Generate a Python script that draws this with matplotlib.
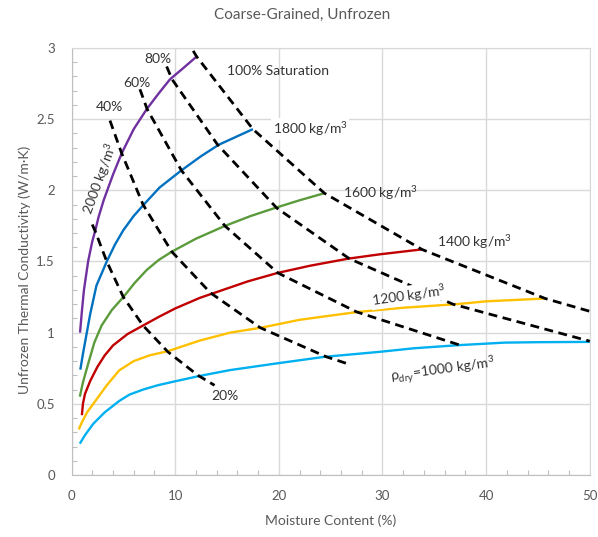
import matplotlib.pyplot as plt
from matplotlib.ticker import MultipleLocator

plt.rcParams['font.family'] = ['Lato', 'DejaVu Sans']
plt.rcParams['mathtext.fontset'] = 'custom'
plt.rcParams['mathtext.rm'] = 'Lato'

# thermal conductivity curves, one per dry density (moisture %, W/m·K)
w_2000 = [0.82, 1.0, 1.2, 1.6, 2.0, 2.3, 2.6, 3.1, 4.0, 4.84, 6.0, 7.25, 8.4, 9.5, 10.8, 12.07]
k_2000 = [1.0, 1.15, 1.3, 1.5, 1.64, 1.72, 1.81, 1.93, 2.11, 2.26, 2.43, 2.57, 2.68, 2.78, 2.86, 2.94]

w_1800 = [0.85, 1.1, 1.3, 1.8, 2.4, 3.4, 4.2, 5.0, 6.0, 7.1, 8.5, 10.6, 12.5, 14.2, 16.0, 17.5]
k_1800 = [0.74, 0.85, 0.93, 1.13, 1.33, 1.5, 1.62, 1.72, 1.82, 1.91, 2.02, 2.14, 2.24, 2.32, 2.38, 2.43]

w_1600 = [0.8, 1.1, 1.6, 2.2, 2.9, 3.9, 5.0, 6.1, 7.25, 8.4, 9.7, 12.0, 14.8, 17.3, 19.8, 22.0, 24.4]
k_1600 = [0.55, 0.65, 0.78, 0.93, 1.05, 1.16, 1.25, 1.35, 1.44, 1.51, 1.57, 1.66, 1.75, 1.82, 1.88, 1.93, 1.98]

w_1400 = [1.0, 1.1, 1.3, 1.8, 2.5, 3.2, 4.0, 5.4, 6.9, 8.4, 10.0, 12.4, 14.2, 17.0, 19.9, 23.0, 26.7, 29.7, 33.8]
k_1400 = [0.42, 0.5, 0.57, 0.66, 0.76, 0.84, 0.91, 0.99, 1.05, 1.11, 1.17, 1.245, 1.29, 1.36, 1.42, 1.47, 1.52, 1.55, 1.585]

w_1200 = [0.7, 1.0, 1.5, 2.4, 3.4, 4.6, 6.0, 7.5, 9.3, 12.4, 15.3, 18.3, 22.0, 25.0, 27.7, 32.0, 37.1, 40.0, 45.7]
k_1200 = [0.32, 0.37, 0.44, 0.53, 0.63, 0.735, 0.8, 0.84, 0.87, 0.945, 1.0, 1.035, 1.09, 1.12, 1.146, 1.175, 1.2, 1.22, 1.24]

w_1000 = [0.8, 1.3, 2.1, 3.2, 4.6, 5.6, 6.9, 8.3, 9.8, 12.3, 15.3, 19.8, 24.4, 29.7, 33.0, 37.3, 41.8, 45.0, 50.0]
k_1000 = [0.22, 0.28, 0.36, 0.44, 0.52, 0.565, 0.6, 0.63, 0.655, 0.695, 0.737, 0.784, 0.83, 0.865, 0.89, 0.912, 0.93, 0.933, 0.935]

# constant saturation lines through the density curves
w_s20 = [2.0, 2.3, 3.4, 5.0, 6.9, 9.3, 12.2, 13.8]
k_s20 = [1.76, 1.71, 1.5, 1.25, 1.05, 0.865, 0.7, 0.63]

w_s40 = [3.71, 4.84, 6.9, 9.66, 13.4, 18.2, 24.6, 26.7]
k_s40 = [2.49, 2.26, 1.9, 1.57, 1.28, 1.035, 0.83, 0.78]

w_s60 = [6.6, 7.3, 10.6, 14.8, 19.9, 27.5, 37.5]
k_s60 = [2.71, 2.57, 2.14, 1.75, 1.42, 1.146, 0.912]

w_s80 = [9.18, 9.7, 14.1, 19.8, 26.8, 36.8, 50.0]
k_s80 = [2.87, 2.78, 2.32, 1.876, 1.52, 1.2, 0.94]

w_s100 = [11.74, 12.07, 17.5, 24.4, 33.8, 45.7, 50.0]
k_s100 = [2.98, 2.94, 2.43, 1.98, 1.585, 1.24, 1.15]

curves = [
    (w_2000, k_2000, '#7030A0'),
    (w_1800, k_1800, '#0070C0'),
    (w_1600, k_1600, '#5B9B3B'),
    (w_1400, k_1400, '#C00000'),
    (w_1200, k_1200, '#FFC000'),
    (w_1000, k_1000, '#00B0F0'),
]
sat_lines = [(w_s20, k_s20), (w_s40, k_s40), (w_s60, k_s60), (w_s80, k_s80), (w_s100, k_s100)]

fig = plt.figure(figsize=(5.98, 5.37), dpi=100)
ax = fig.add_axes([0.1196, 0.1155, 0.8666, 0.7951])

for w, k, c in curves:
    ax.plot(w, k, color=c, lw=1.7, solid_capstyle='butt', zorder=3)

for w, k in sat_lines:
    ax.plot(w, k, color='black', lw=2.0, dashes=(3.2, 2), zorder=4)

ax.set_xlim(0, 50)
ax.set_ylim(0, 3)
ax.xaxis.set_major_locator(MultipleLocator(10))
ax.xaxis.set_minor_locator(MultipleLocator(2))
ax.yaxis.set_major_locator(MultipleLocator(0.5))
ax.yaxis.set_minor_locator(MultipleLocator(0.1))
ax.yaxis.set_major_formatter(lambda v, pos: f'{v:g}')
ax.grid(True, which='major', color='#D9D9D9', lw=1.0, zorder=0)
ax.tick_params(which='major', length=0, labelsize=9.5, labelcolor='#595959')
ax.tick_params(axis='x', which='major', pad=11)
ax.tick_params(axis='y', which='major', pad=12)
ax.tick_params(which='minor', direction='in', length=3.5, color='#BFBFBF', width=0.8)
for side in ['left', 'bottom']:
    ax.spines[side].set_color('#BFBFBF')
for side in ['top', 'right']:
    ax.spines[side].set_color('#D9D9D9')

txt = dict(fontsize=10, color='#333333', zorder=6)
ax.text(19.9, 2.84, '100% Saturation', ha='center', va='center', **txt)
ax.text(8.3, 2.92, '80%', ha='center', va='center', **txt)
ax.text(6.3, 2.756, '60%', ha='center', va='center', **txt)
ax.text(3.68, 2.585, '40%', ha='center', va='center', **txt)
ax.text(14.8, 0.556, '20%', ha='center', va='center', **txt)
ax.text(2.75, 2.08, '2000 kg/m$^3$', ha='center', va='center', rotation=70, **txt)
ax.text(19.4, 2.43, '1800 kg/m$^3$', ha='left', va='center',
        bbox=dict(fc='white', ec='none', pad=1), **txt)
ax.text(26.2, 1.98, '1600 kg/m$^3$', ha='left', va='center', **txt)
ax.text(35.3, 1.64, '1400 kg/m$^3$', ha='left', va='center', **txt)
ax.text(32.5, 1.262, '1200 kg/m$^3$', ha='center', va='center', rotation=8,
        bbox=dict(fc='white', ec='none', pad=0.3), **txt)
ax.text(35.8, 0.735, 'ρ$_{\\mathrm{dry}}$=1000 kg/m$^3$', ha='center', va='center',
        rotation=7.5, **txt)

fig.text(0.505, 0.972, 'Coarse-Grained, Unfrozen', ha='center', va='center',
         fontsize=11, color='#595959')
fig.text(0.553, 0.030, 'Moisture Content (%)', ha='center', va='center',
         fontsize=10, color='#595959')
fig.text(0.042, 0.497, 'Unfrozen Thermal Conductivity (W/m·K)', ha='center', va='center',
         rotation=90, fontsize=10, color='#595959')

fig.savefig('out.png', dpi=100)
